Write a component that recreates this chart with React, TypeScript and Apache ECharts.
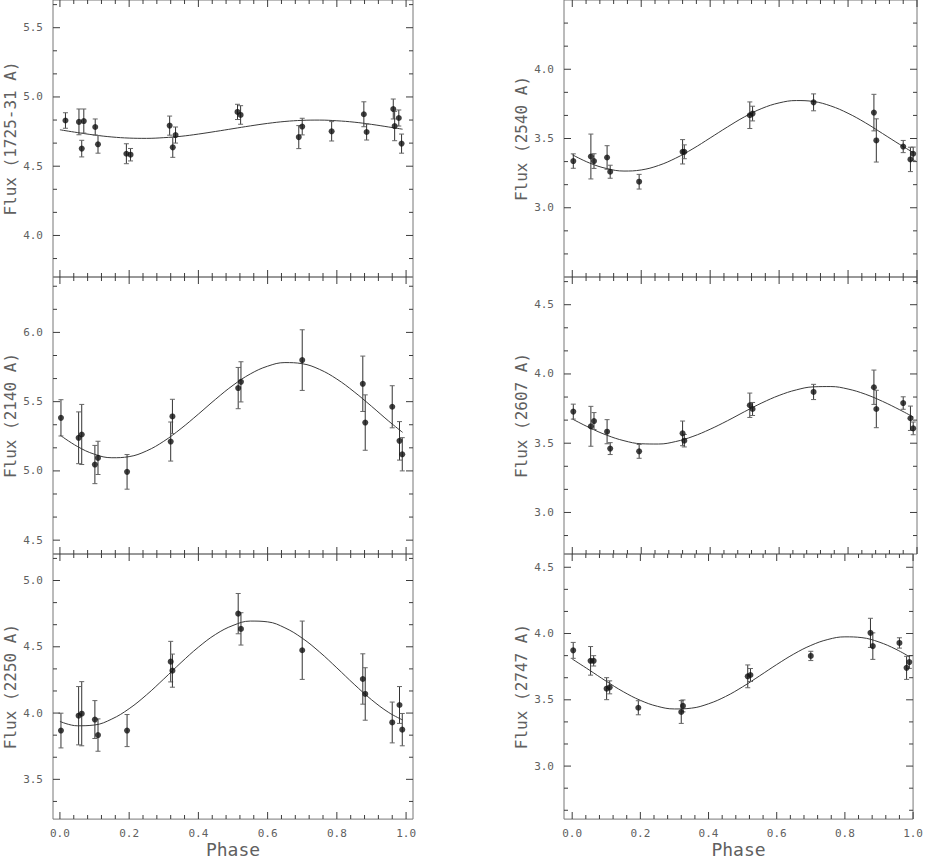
import React, { useEffect, useRef } from "react";
import * as echarts from "echarts";

// ---- data ----
const PHASE_1725 = [0.016, 0.055, 0.063, 0.069, 0.102, 0.11, 0.192, 0.204, 0.317, 0.326, 0.334, 0.513, 0.522, 0.69, 0.7, 0.785, 0.878, 0.886, 0.963, 0.967, 0.979, 0.987];
const FLUX_1725 = [4.83, 4.82, 4.627, 4.826, 4.783, 4.658, 4.59, 4.583, 4.793, 4.636, 4.725, 4.892, 4.87, 4.71, 4.786, 4.752, 4.875, 4.747, 4.913, 4.79, 4.848, 4.663];
const ERR_1725 = [0.056, 0.093, 0.06, 0.087, 0.058, 0.064, 0.072, 0.045, 0.069, 0.072, 0.058, 0.055, 0.067, 0.083, 0.06, 0.07, 0.09, 0.058, 0.072, 0.106, 0.058, 0.069];

const PHASE = [0.003, 0.054, 0.063, 0.101, 0.11, 0.194, 0.32, 0.325, 0.515, 0.523, 0.7, 0.875, 0.882, 0.96, 0.981, 0.989];

const FLUX_2140 = [5.383, 5.239, 5.263, 5.046, 5.094, 4.993, 5.212, 5.393, 5.598, 5.643, 5.8, 5.629, 5.349, 5.463, 5.217, 5.12];
const ERR_2140 = [0.131, 0.187, 0.217, 0.138, 0.12, 0.125, 0.141, 0.124, 0.149, 0.145, 0.219, 0.2, 0.2, 0.152, 0.139, 0.12];

const FLUX_2250 = [3.868, 3.98, 3.995, 3.951, 3.834, 3.868, 4.388, 4.32, 4.75, 4.635, 4.474, 4.257, 4.144, 3.929, 4.061, 3.875];
const ERR_2250 = [0.131, 0.22, 0.242, 0.143, 0.122, 0.121, 0.153, 0.125, 0.152, 0.122, 0.22, 0.19, 0.198, 0.154, 0.139, 0.122];

const FLUX_2540 = [3.337, 3.37, 3.337, 3.363, 3.26, 3.188, 3.404, 3.404, 3.668, 3.68, 3.761, 3.687, 3.486, 3.442, 3.349, 3.39];
const ERR_2540 = [0.052, 0.162, 0.053, 0.085, 0.047, 0.053, 0.088, 0.05, 0.096, 0.053, 0.061, 0.132, 0.156, 0.044, 0.088, 0.048];

const FLUX_2607 = [3.728, 3.622, 3.66, 3.583, 3.461, 3.441, 3.571, 3.518, 3.774, 3.747, 3.87, 3.904, 3.747, 3.79, 3.68, 3.607];
const ERR_2607 = [0.054, 0.144, 0.061, 0.087, 0.043, 0.05, 0.089, 0.045, 0.088, 0.047, 0.055, 0.124, 0.135, 0.045, 0.088, 0.046];

const FLUX_2747 = [3.873, 3.794, 3.794, 3.584, 3.594, 3.44, 3.408, 3.454, 3.677, 3.687, 3.831, 4.005, 3.905, 3.929, 3.741, 3.785];
const ERR_2747 = [0.06, 0.108, 0.039, 0.083, 0.049, 0.053, 0.086, 0.045, 0.086, 0.049, 0.035, 0.11, 0.1, 0.039, 0.087, 0.048];

// fitted curves, read at these phases
const CURVE_PHASE = [0, 0.05, 0.1, 0.15, 0.2, 0.25, 0.3, 0.35, 0.4, 0.45, 0.5, 0.55, 0.6, 0.65, 0.7, 0.75, 0.8, 0.85, 0.9, 0.95, 0.99];
const FIT_1725 = [4.763, 4.743, 4.725, 4.711, 4.703, 4.701, 4.706, 4.716, 4.732, 4.751, 4.771, 4.791, 4.809, 4.823, 4.831, 4.833, 4.828, 4.818, 4.802, 4.783, 4.767];
const FIT_2140 = [5.259, 5.177, 5.12, 5.095, 5.103, 5.144, 5.214, 5.306, 5.41, 5.518, 5.618, 5.7, 5.756, 5.782, 5.774, 5.733, 5.663, 5.571, 5.467, 5.359, 5.278];
const FIT_2250 = [3.937, 3.904, 3.91, 3.955, 4.033, 4.137, 4.257, 4.381, 4.497, 4.594, 4.661, 4.694, 4.688, 4.643, 4.565, 4.461, 4.341, 4.217, 4.101, 4.004, 3.948];
const FIT_2540 = [3.383, 3.323, 3.283, 3.265, 3.273, 3.305, 3.358, 3.426, 3.504, 3.583, 3.657, 3.717, 3.757, 3.774, 3.767, 3.735, 3.682, 3.614, 3.536, 3.457, 3.397];
const FIT_2607 = [3.675, 3.612, 3.558, 3.518, 3.496, 3.494, 3.512, 3.549, 3.601, 3.662, 3.728, 3.791, 3.845, 3.885, 3.907, 3.909, 3.891, 3.854, 3.802, 3.741, 3.688];
const FIT_2747 = [3.808, 3.725, 3.64, 3.561, 3.496, 3.451, 3.431, 3.437, 3.47, 3.525, 3.598, 3.681, 3.766, 3.845, 3.91, 3.955, 3.975, 3.969, 3.936, 3.881, 3.824];

// axis ranges and tick labels
const X_MAJOR = [0, 0.2, 0.4, 0.6, 0.8, 1.0];
const X_MINOR = [0.04, 0.08, 0.12, 0.16, 0.24, 0.28, 0.32, 0.36, 0.44, 0.48, 0.52, 0.56, 0.64, 0.68, 0.72, 0.76, 0.84, 0.88, 0.92, 0.96];
const Y_RANGE_1725 = [3.7, 5.7];
const Y_TICKS_1725 = [4.0, 4.5, 5.0, 5.5];
const Y_RANGE_2140 = [4.4, 6.4];
const Y_TICKS_2140 = [4.5, 5.0, 5.5, 6.0];
const Y_RANGE_2250 = [3.2, 5.2];
const Y_TICKS_2250 = [3.5, 4.0, 4.5, 5.0];
const Y_RANGE_2540 = [2.5, 4.5];
const Y_TICKS_2540 = [3.0, 3.5, 4.0];
const Y_RANGE_2607 = [2.7, 4.7];
const Y_TICKS_2607 = [3.0, 3.5, 4.0, 4.5];
const Y_RANGE_2747 = [2.6, 4.6];
const Y_TICKS_2747 = [3.0, 3.5, 4.0, 4.5];

const PANELS = [
  { title: "Flux (1725-31 A)", phase: PHASE_1725, flux: FLUX_1725, err: ERR_1725, fit: FIT_1725, range: Y_RANGE_1725, ticks: Y_TICKS_1725, col: 0, row: 0 },
  { title: "Flux (2140 A)", phase: PHASE, flux: FLUX_2140, err: ERR_2140, fit: FIT_2140, range: Y_RANGE_2140, ticks: Y_TICKS_2140, col: 0, row: 1 },
  { title: "Flux (2250 A)", phase: PHASE, flux: FLUX_2250, err: ERR_2250, fit: FIT_2250, range: Y_RANGE_2250, ticks: Y_TICKS_2250, col: 0, row: 2 },
  { title: "Flux (2540 A)", phase: PHASE, flux: FLUX_2540, err: ERR_2540, fit: FIT_2540, range: Y_RANGE_2540, ticks: Y_TICKS_2540, col: 1, row: 0 },
  { title: "Flux (2607 A)", phase: PHASE, flux: FLUX_2607, err: ERR_2607, fit: FIT_2607, range: Y_RANGE_2607, ticks: Y_TICKS_2607, col: 1, row: 1 },
  { title: "Flux (2747 A)", phase: PHASE, flux: FLUX_2747, err: ERR_2747, fit: FIT_2747, range: Y_RANGE_2747, ticks: Y_TICKS_2747, col: 1, row: 2 },
];

// ---- layout / style ----
const COLS = [
  { left: 53, width: 360, xMin: -0.02, xMax: 1.02 },
  { left: 564, width: 353, xMin: -0.024, xMax: 1.0 },
];
const ROWS = [
  { top: 0, height: 277 },
  { top: 277, height: 277 },
  { top: 554, height: 272 },
];
const FONT = "'DejaVu Sans Mono', 'Liberation Mono', monospace";
const TEXT = "#606060";
const FRAME = "#777";
const TICK = "#3c3c3c";
const MAJOR_LEN = 7;
const MINOR_LEN = 4;

function minorY(range: number[], majors: number[]): number[] {
  const step = 0.5 / 3;
  const out: number[] = [];
  for (let k = -6; k <= 30; k++) {
    if (k % 3 === 0) continue;
    const v = majors[0] + k * step;
    if (v > range[0] + 1e-6 && v < range[1] - 1e-6) out.push(Math.round(v * 10000) / 10000);
  }
  return out;
}

// inward tick marks as thin rect symbols placed through the axes' scales
function tickScatter(i: number, data: number[][], size: number[], offset: number[]) {
  return {
    type: "scatter", xAxisIndex: i, yAxisIndex: i, silent: true, clip: false, z: 6,
    data, symbol: "rect", symbolSize: size, symbolOffset: offset,
    itemStyle: { color: TICK, opacity: 1 },
  };
}

function buildOption() {
  const grid: any[] = [];
  const xAxis: any[] = [];
  const yAxis: any[] = [];
  const series: any[] = [];
  const fmt = (v: number) => v.toFixed(1);
  const labelStyle = { fontFamily: FONT, fontSize: 11, color: TEXT };

  PANELS.forEach((p, i) => {
    const c = COLS[p.col];
    const r = ROWS[p.row];
    grid.push({
      left: c.left, top: r.top, width: c.width, height: r.height,
      show: true, borderColor: FRAME, borderWidth: 1, backgroundColor: "transparent",
    });
    const bottomRow = p.row === 2;
    xAxis.push({
      type: "value", gridIndex: i, min: c.xMin, max: c.xMax, position: "bottom",
      axisLine: { show: false, onZero: false }, splitLine: { show: false }, axisTick: { show: false },
      axisLabel: bottomRow ? { show: true, customValues: X_MAJOR, margin: 9, formatter: fmt, ...labelStyle } : { show: false },
      name: bottomRow ? "Phase" : "", nameLocation: "middle", nameGap: 19,
      nameTextStyle: { fontFamily: FONT, fontSize: 18, color: TEXT },
    });
    yAxis.push({
      type: "value", gridIndex: i, min: p.range[0], max: p.range[1], position: "left",
      axisLine: { show: false, onZero: false }, splitLine: { show: false }, axisTick: { show: false },
      axisLabel: { show: true, customValues: p.ticks, margin: 10, formatter: fmt, ...labelStyle },
      name: p.title, nameLocation: "middle", nameRotate: 90, nameGap: 35,
      nameTextStyle: { fontFamily: FONT, fontSize: 16, color: TEXT },
    });

    series.push({
      type: "line", xAxisIndex: i, yAxisIndex: i, silent: true,
      data: CURVE_PHASE.map((x, j) => [x, p.fit[j]]),
      smooth: 0.4, showSymbol: false, symbol: "none",
      lineStyle: { color: "#3a3a3a", width: 1 }, z: 1,
    });
    series.push({
      type: "custom", xAxisIndex: i, yAxisIndex: i, silent: true,
      data: p.phase.map((x, j) => [x, p.flux[j] - p.err[j], p.flux[j] + p.err[j]]),
      encode: { x: 0, y: [1, 2] },
      renderItem: (params: any, api: any) => {
        const lo = api.coord([api.value(0), api.value(1)]);
        const hi = api.coord([api.value(0), api.value(2)]);
        const w = 2.5;
        return {
          type: "group",
          children: [
            { type: "line", shape: { x1: lo[0], y1: lo[1], x2: hi[0], y2: hi[1] }, style: { stroke: "#333", lineWidth: 1 } },
            { type: "line", shape: { x1: lo[0] - w, y1: lo[1], x2: lo[0] + w, y2: lo[1] }, style: { stroke: "#666", lineWidth: 1 } },
            { type: "line", shape: { x1: hi[0] - w, y1: hi[1], x2: hi[0] + w, y2: hi[1] }, style: { stroke: "#666", lineWidth: 1 } },
          ],
        };
      },
      z: 2,
    });
    series.push({
      type: "scatter", xAxisIndex: i, yAxisIndex: i, silent: true,
      data: p.phase.map((x, j) => [x, p.flux[j]]),
      symbol: "circle", symbolSize: 6,
      itemStyle: { color: "#111" }, z: 3,
    });

    const yMinor = minorY(p.range, p.ticks);
    const y0 = p.range[0], y1 = p.range[1], x0 = c.xMin, x1 = c.xMax;
    const M = MAJOR_LEN, m = MINOR_LEN;
    // x ticks: bottom and top edges
    series.push(tickScatter(i, X_MAJOR.map((v) => [v, y0]), [1, M], [0, -M / 2]));
    series.push(tickScatter(i, X_MAJOR.map((v) => [v, y1]), [1, M], [0, M / 2]));
    series.push(tickScatter(i, X_MINOR.map((v) => [v, y0]), [1, m], [0, -m / 2]));
    series.push(tickScatter(i, X_MINOR.map((v) => [v, y1]), [1, m], [0, m / 2]));
    // y ticks: left and right edges
    series.push(tickScatter(i, p.ticks.map((v) => [x0, v]), [M, 1], [M / 2, 0]));
    series.push(tickScatter(i, p.ticks.map((v) => [x1, v]), [M, 1], [-M / 2, 0]));
    series.push(tickScatter(i, yMinor.map((v) => [x0, v]), [m, 1], [m / 2, 0]));
    series.push(tickScatter(i, yMinor.map((v) => [x1, v]), [m, 1], [-m / 2, 0]));
  });

  return { animation: false, backgroundColor: "#fff", grid, xAxis, yAxis, series };
}

export default function App() {
  const ref = useRef<HTMLDivElement>(null);
  useEffect(() => {
    if (!ref.current) return;
    const chart = echarts.init(ref.current, undefined, { renderer: "svg" });
    chart.setOption(buildOption() as any);
    return () => chart.dispose();
  }, []);
  return <div ref={ref} style={{ position: "absolute", left: 0, top: 0, width: 926, height: 859 }} />;
}
